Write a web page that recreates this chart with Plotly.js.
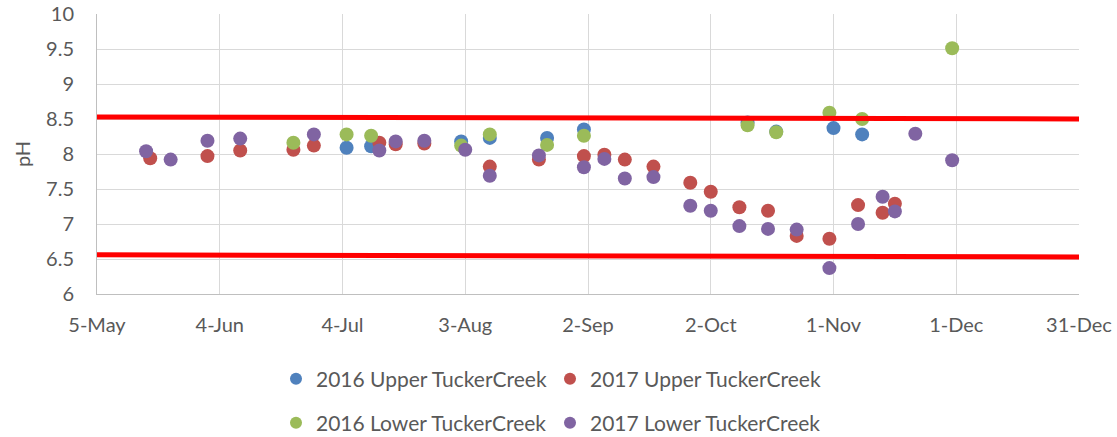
<!DOCTYPE html>
<html>
<head>
<meta charset="utf-8">
<script src="https://cdn.plot.ly/plotly-3.0.1.min.js"></script>
<style>
  body { margin: 0; background: #fff; }
  #chart { width: 1117px; height: 437px; }
</style>
</head>
<body>
<div id="chart"></div>
<script>
// pH readings

// 2016 Upper TuckerCreek
var up16_dates = ['2017-07-05', '2017-07-11', '2017-08-02', '2017-08-09', '2017-08-23',
                  '2017-09-01', '2017-10-11', '2017-10-18', '2017-11-01', '2017-11-08'];
var up16_ph = [8.09, 8.11, 8.18, 8.23, 8.23, 8.35, 8.45, 8.32, 8.37, 8.28];

// 2017 Upper TuckerCreek
var up17_dates = ['2017-05-18', '2017-06-01', '2017-06-09', '2017-06-22', '2017-06-27',
                  '2017-07-13', '2017-07-17', '2017-07-24', '2017-08-09', '2017-08-21',
                  '2017-09-01', '2017-09-06', '2017-09-11', '2017-09-18', '2017-09-27',
                  '2017-10-02', '2017-10-09', '2017-10-16', '2017-10-23', '2017-10-31',
                  '2017-11-07', '2017-11-13', '2017-11-16'];
var up17_ph = [7.94, 7.97, 8.05, 8.06, 8.12,
               8.16, 8.14, 8.15, 7.82, 7.92,
               7.97, 7.99, 7.92, 7.82, 7.59,
               7.46, 7.24, 7.19, 6.83, 6.79,
               7.27, 7.16, 7.29];

// 2016 Lower TuckerCreek
var low16_dates = ['2017-06-22', '2017-07-05', '2017-07-11', '2017-08-02', '2017-08-09',
                   '2017-08-23', '2017-09-01', '2017-10-11', '2017-10-18', '2017-10-31',
                   '2017-11-08', '2017-11-30'];
var low16_ph = [8.16, 8.28, 8.26, 8.12, 8.28, 8.13, 8.26, 8.41, 8.31, 8.59, 8.50, 9.51];

// 2017 Lower TuckerCreek
var low17_dates = ['2017-05-17', '2017-05-23', '2017-06-01', '2017-06-09', '2017-06-27',
                   '2017-07-13', '2017-07-17', '2017-07-24', '2017-08-03', '2017-08-09',
                   '2017-08-21', '2017-09-01', '2017-09-06', '2017-09-11', '2017-09-18',
                   '2017-09-27', '2017-10-02', '2017-10-09', '2017-10-16', '2017-10-23',
                   '2017-10-31', '2017-11-07', '2017-11-13', '2017-11-16', '2017-11-21',
                   '2017-11-30'];
var low17_ph = [8.04, 7.92, 8.19, 8.22, 8.28,
                8.05, 8.18, 8.19, 8.06, 7.69,
                7.98, 7.81, 7.93, 7.65, 7.67,
                7.26, 7.19, 6.97, 6.93, 6.92,
                6.37, 7.00, 7.39, 7.18, 8.29,
                7.91];

// red limit lines (drawn across the whole plot)
var limit_dates = ['2017-05-05', '2017-12-31'];
var limit_upper = [8.53, 8.50];
var limit_lower = [6.56, 6.53];

var FONT = 'Lato, "Open Sans", sans-serif';
var GREY_TEXT = '#595959';
var DAY = 86400000;

function dots(x, y, name, color, legend) {
    return {
        x: x, y: y, name: name,
        type: 'scatter', mode: 'markers',
        marker: {size: 14, color: color, line: {width: 0}},
        legend: legend,
        hoverinfo: 'x+y'
    };
}

function limit(y) {
    return {
        x: limit_dates, y: y,
        type: 'scatter', mode: 'lines',
        line: {color: '#FF0000', width: 5},
        showlegend: false, hoverinfo: 'skip'
    };
}

var data = [
    dots(up16_dates, up16_ph, '2016 Upper TuckerCreek', '#4F81BD', 'legend'),
    dots(up17_dates, up17_ph, '2017 Upper TuckerCreek', '#C0504D', 'legend2'),
    dots(low16_dates, low16_ph, '2016 Lower TuckerCreek', '#9BBB59', 'legend3'),
    dots(low17_dates, low17_ph, '2017 Lower TuckerCreek', '#8064A2', 'legend4'),
    limit(limit_upper),
    limit(limit_lower)
];

// one small legend per entry, laid out as a 2x2 grid in container pixels
function legendAt(px, py) {
    return {
        orientation: 'h',
        xref: 'container', yref: 'container',
        xanchor: 'left', yanchor: 'middle',
        x: px / 1117, y: 1 - py / 437,
        font: {family: FONT, size: 21, color: GREY_TEXT},
        bgcolor: 'rgba(0,0,0,0)',
        itemsizing: 'constant'
    };
}

var layout = {
    width: 1117, height: 437,
    margin: {l: 97, r: 38, t: 14, b: 143},
    paper_bgcolor: '#fff', plot_bgcolor: '#fff',
    font: {family: FONT, color: GREY_TEXT},
    showlegend: true,
    legend: legendAt(276, 379),
    legend2: legendAt(550, 379),
    legend3: legendAt(276, 423),
    legend4: legendAt(550, 423),
    xaxis: {
        type: 'date',
        range: ['2017-05-05', '2017-12-31'],
        tick0: '2017-05-05', dtick: 30 * DAY,
        tickformat: '%-d-%b',
        showgrid: true, gridcolor: '#D9D9D9', gridwidth: 1,
        showline: true, linecolor: '#BFBFBF', linewidth: 1,
        ticks: '', ticklabelstandoff: 13,
        tickfont: {family: FONT, size: 20, color: GREY_TEXT},
        zeroline: false
    },
    yaxis: {
        range: [6, 10],
        dtick: 0.5,
        showgrid: true, gridcolor: '#D9D9D9', gridwidth: 1,
        showline: true, linecolor: '#BFBFBF', linewidth: 1,
        ticks: '', ticklabelstandoff: 18,
        tickfont: {family: FONT, size: 20, color: GREY_TEXT},
        title: {text: 'pH', font: {family: FONT, size: 20, color: GREY_TEXT}, standoff: 10},
        zeroline: false
    }
};

Plotly.newPlot('chart', data, layout, {displayModeBar: false, staticPlot: true});
</script>
</body>
</html>
